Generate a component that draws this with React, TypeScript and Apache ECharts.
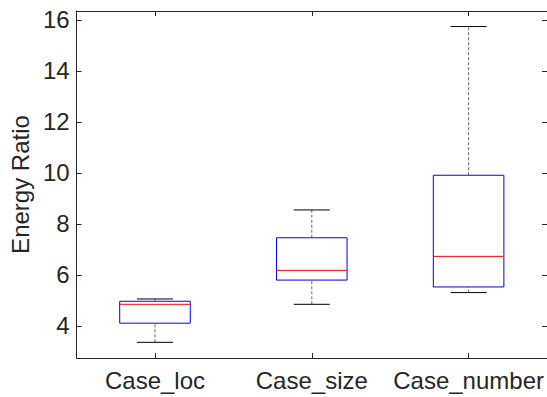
import React, { useEffect, useRef } from "react";
import * as echarts from "echarts";

const categories = ["Case_loc", "Case_size", "Case_number"];
const mins = [3.36, 4.85, 5.31];
const q1s = [4.11, 5.8, 5.53];
const medians = [4.85, 6.18, 6.73];
const q3s = [4.97, 7.46, 9.91];
const maxs = [5.06, 8.55, 15.74];
const yTicks = [4, 6, 8, 10, 12, 14, 16];

const AX = "#262626";
const FONT = "Liberation Sans, Arial, Helvetica, sans-serif";

export default function App() {
  const ref = useRef<HTMLDivElement>(null);
  useEffect(() => {
    document.body.style.margin = "0";
    const chart = echarts.init(ref.current!, null, { renderer: "svg" });
    const data = categories.map((_, i) => [i, mins[i], q1s[i], medians[i], q3s[i], maxs[i]]);
    const yMin = 2.745;
    const yMax = 16.35;
    chart.setOption({
      animation: false,
      backgroundColor: "#ffffff",
      grid: { left: 75, right: 0, top: 11, bottom: 39 },
      xAxis: [
        {
          type: "category",
          data: categories,
          position: "bottom",
          axisLine: { show: true, lineStyle: { color: AX, width: 1 } },
          axisTick: { show: true, inside: true, alignWithLabel: true, length: 5, lineStyle: { color: AX } },
          axisLabel: { color: AX, fontSize: 24, fontFamily: FONT, margin: 10, interval: 0 },
          splitLine: { show: false },
        },
        {
          type: "category",
          data: categories,
          position: "top",
          axisLine: { show: true, lineStyle: { color: AX, width: 1 } },
          axisTick: { show: true, inside: true, alignWithLabel: true, length: 5, lineStyle: { color: AX } },
          axisLabel: { show: false },
          splitLine: { show: false },
        },
      ],
      yAxis: [
        {
          type: "value",
          min: yMin,
          max: yMax,
          position: "left",
          name: "Energy Ratio",
          nameLocation: "middle",
          nameGap: 37,
          nameTextStyle: { color: AX, fontSize: 24, fontFamily: FONT },
          axisLine: { show: true, lineStyle: { color: AX, width: 1 } },
          axisTick: { show: true, inside: true, length: 5, customValues: yTicks, lineStyle: { color: AX } },
          axisLabel: { color: AX, fontSize: 24, fontFamily: FONT, margin: 7, customValues: yTicks },
          splitLine: { show: false },
        },
        {
          type: "value",
          min: yMin,
          max: yMax,
          position: "right",
          axisLine: { show: true, lineStyle: { color: AX, width: 1 } },
          axisTick: { show: true, inside: true, length: 5, customValues: yTicks, lineStyle: { color: AX } },
          axisLabel: { show: false, customValues: yTicks },
          splitLine: { show: false },
        },
      ],
      series: [
        {
          type: "custom",
          xAxisIndex: 0,
          yAxisIndex: 0,
          data,
          encode: { x: 0, y: [1, 2, 3, 4, 5] },
          renderItem: (params: any, api: any) => {
            const i = api.value(0);
            const pMin = api.coord([i, api.value(1)]);
            const pQ1 = api.coord([i, api.value(2)]);
            const pMed = api.coord([i, api.value(3)]);
            const pQ3 = api.coord([i, api.value(4)]);
            const pMax = api.coord([i, api.value(5)]);
            const w = api.size([1, 0])[0];
            const hb = w * 0.225;
            const hc = w * 0.115;
            const cx = pMin[0];
            const dash = { stroke: "#000", lineWidth: 0.6, lineDash: [3, 2], fill: null };
            return {
              type: "group",
              children: [
                { type: "line", shape: { x1: cx, y1: pQ3[1], x2: cx, y2: pMax[1] }, style: dash },
                { type: "line", shape: { x1: cx, y1: pMin[1], x2: cx, y2: pQ1[1] }, style: dash },
                { type: "line", shape: { x1: cx - hc, y1: pMax[1], x2: cx + hc, y2: pMax[1] }, style: { stroke: "#000", lineWidth: 1 } },
                { type: "line", shape: { x1: cx - hc, y1: pMin[1], x2: cx + hc, y2: pMin[1] }, style: { stroke: "#000", lineWidth: 1 } },
                {
                  type: "rect",
                  shape: { x: cx - hb, y: pQ3[1], width: hb * 2, height: pQ1[1] - pQ3[1] },
                  style: { stroke: "#0000ff", lineWidth: 1, fill: "none" },
                },
                { type: "line", shape: { x1: cx - hb, y1: pMed[1], x2: cx + hb, y2: pMed[1] }, style: { stroke: "#ff0000", lineWidth: 1 } },
              ],
            };
          },
        },
      ],
    });
    return () => chart.dispose();
  }, []);
  return <div ref={ref} style={{ width: 547, height: 397 }} />;
}
